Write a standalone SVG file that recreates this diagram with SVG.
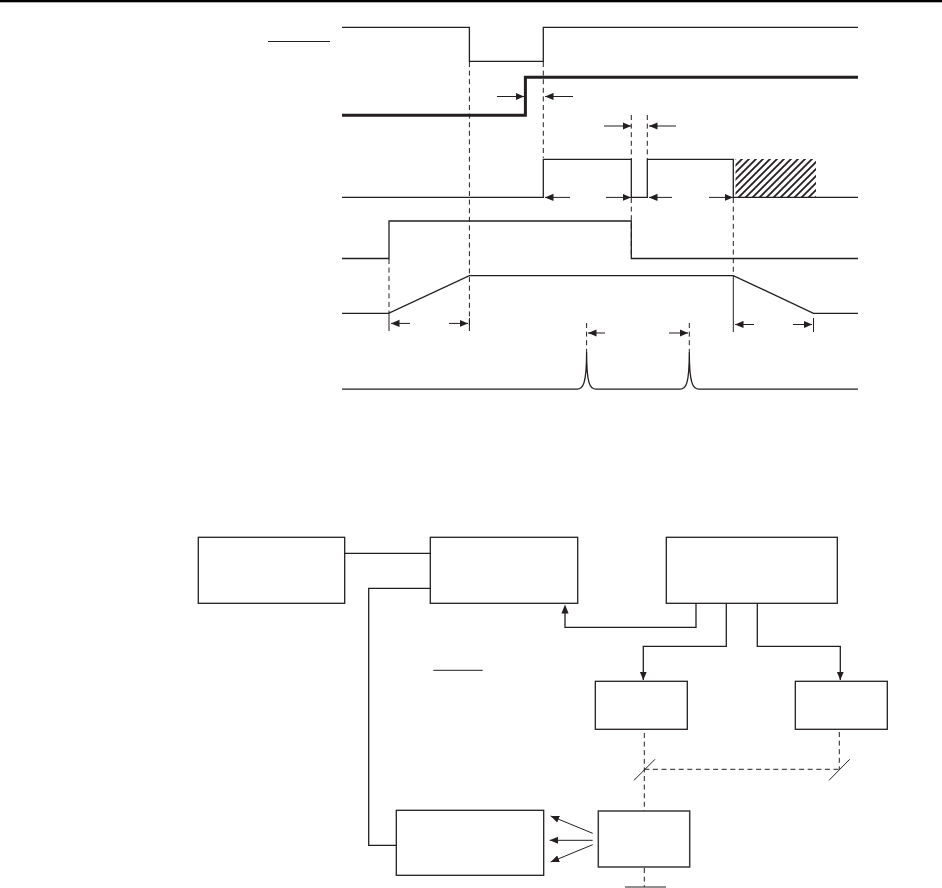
<svg xmlns="http://www.w3.org/2000/svg" width="942" height="888" viewBox="0 0 942 888">
<style>
.l{fill:none;stroke:#231f20;stroke-width:1.3}
.t{fill:none;stroke:#231f20;stroke-width:3}
.d{fill:none;stroke:#231f20;stroke-width:1;stroke-dasharray:5 3.6}
.f{fill:none;stroke:#231f20;stroke-width:1}
.b{fill:#fff;stroke:#231f20;stroke-width:1.3}
.a{marker-end:url(#ah)}
</style>
<defs>
<marker id="ah" markerUnits="userSpaceOnUse" markerWidth="10" markerHeight="8" refX="8.5" refY="4" orient="auto"><path d="M0 0.4L8.5 4L0 7.6Z" fill="#231f20"/></marker>
<pattern id="hatch" patternUnits="userSpaceOnUse" x="735" y="159" width="7" height="7"><path d="M-1 8L8 -1M-1 1L1 -1M6 8L8 6" stroke="#231f20" stroke-width="1.8" fill="none"/></pattern>
</defs>
<rect width="942" height="888" fill="#fff"/>
<rect id="top-rule" x="0" y="0" width="942" height="2.3" fill="#000"/>
<g id="timing">
<path class="f" d="M268 41.5H330"/>
<rect id="hatch-area" x="735.5" y="159" width="80.5" height="38" fill="url(#hatch)"/>
<path id="sig1" class="l" d="M342 27.4H469.4V61.3H543.3V27.4H858"/>
<path id="sig2" class="t" d="M342 115.3H525.4V77.3H858"/>
<path id="sig3" class="l" d="M342 197.4H543.3V159.3H631.3V197.4H647.3V159.3H733.3V197.4H858"/>
<path id="sig4" class="l" d="M342 258.5H389V221H631.3V258.5H858"/>
<path id="sig5" class="l" d="M342 313.3H388.5L469.4 275.6H733.3L813.5 313.3H858"/>
<path id="sig6" class="l" d="M342 389.2H577C583 389.2 586.6 384 586.6 352C586.6 384 590 389.2 596 389.2H680C686 389.2 689.3 384 689.3 352C689.3 384 693 389.2 699 389.2H858"/>
</g>
<g id="timing-connectors">
<path class="d" d="M469.4 62V326M543.3 62V158M631.3 115V159M647.3 115V159M631.3 198V258M733.3 198V275M389 259V313M586.6 323V352M689.3 323V352"/>
<path class="f" d="M389 313V331M469.4 318V331M733.3 275V332M813.5 318V332"/>
<path class="f a" d="M497 96.5H524"/>
<path class="f a" d="M573 96.5H545"/>
<path class="f a" d="M604 126H631"/>
<path class="f a" d="M676 126H649"/>
<path class="f a" d="M570 197.4H545"/>
<path class="f a" d="M606 197.4H631"/>
<path class="f a" d="M672 197.4H649"/>
<path class="f a" d="M709 197.4H733"/>
<path class="f a" d="M410 323.4H391"/>
<path class="f a" d="M449 323.4H468"/>
<path class="f a" d="M754 324.5H735"/>
<path class="f a" d="M793 324.5H812"/>
<path class="f a" d="M605 333H588"/>
<path class="f a" d="M669 333H688"/>
</g>
<g id="block-1"><rect class="b" x="198.3" y="537.3" width="146.4" height="66"/></g>
<g id="block-2"><rect class="b" x="430.3" y="537.3" width="147.4" height="66"/></g>
<g id="block-3"><rect class="b" x="666.3" y="537.3" width="171" height="66"/></g>
<g id="block-4"><rect class="b" x="595.3" y="681.3" width="92" height="48"/></g>
<g id="block-5"><rect class="b" x="795.3" y="681.3" width="92" height="48"/></g>
<g id="block-6"><rect class="b" x="396.3" y="810.3" width="147.4" height="65"/></g>
<g id="block-7"><rect x="598.3" y="811" width="91.4" height="56" fill="#fff" stroke="#3a3a3a" stroke-width="1.5"/></g>
<g id="connectors">
<path class="l" d="M344.7 553.3H430.3M430.3 588.3H368.7V845.3H396.3"/>
<path class="l" d="M696 603.3V627.3H565V612"/>
<path d="M565 604.5L568.6 613.5H561.4Z" fill="#231f20"/>
<path class="l a" d="M726.3 603.3V646.3H643.3V680"/>
<path class="l a" d="M757.3 603.3V646.3H840.3V680"/>
<path class="d" d="M644.3 733V811M839.3 732V769.3M644.3 769.3H839.3M644.3 868V887"/>
<path class="f" d="M634 780.3L655 759.3M829 780.3L849.7 759.3M625 887H666M433.3 670.3H482.7"/>
<path class="f a" d="M592.7 833.3L550.7 816"/>
<path class="f a" d="M592.7 840.3H549.7"/>
<path class="f a" d="M592.7 844.7L550.7 862"/>
</g>
</svg>
